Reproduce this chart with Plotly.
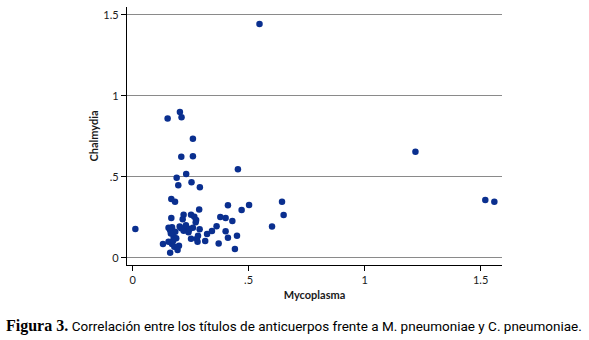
import plotly.graph_objects as go

mycoplasma = [0.012, 0.547, 1.219, 1.520, 1.559, 0.454, 0.644, 0.651, 0.502, 0.470,
              0.151, 0.204, 0.211, 0.260, 0.210, 0.260, 0.231, 0.190, 0.254, 0.197,
              0.290, 0.167, 0.183, 0.411, 0.287, 0.220, 0.252, 0.167, 0.216, 0.266,
              0.274, 0.378, 0.401, 0.430, 0.272, 0.155, 0.170, 0.203, 0.234, 0.260,
              0.289, 0.362, 0.342, 0.321, 0.401, 0.601, 0.162, 0.184, 0.220, 0.241,
              0.282, 0.252, 0.277, 0.280, 0.313, 0.177, 0.188, 0.155, 0.131, 0.170,
              0.200, 0.180, 0.194, 0.162, 0.371, 0.411, 0.450, 0.441, 0.209, 0.160,
              0.230, 0.245, 0.175, 0.165]
chlamydia = [0.177, 1.443, 0.655, 0.357, 0.346, 0.546, 0.346, 0.264, 0.326, 0.295,
             0.859, 0.900, 0.868, 0.735, 0.624, 0.627, 0.517, 0.493, 0.466, 0.447,
             0.435, 0.363, 0.346, 0.324, 0.297, 0.266, 0.266, 0.245, 0.238, 0.253,
             0.233, 0.251, 0.245, 0.227, 0.219, 0.185, 0.188, 0.192, 0.184, 0.185,
             0.175, 0.194, 0.165, 0.146, 0.163, 0.192, 0.169, 0.161, 0.167, 0.157,
             0.136, 0.117, 0.117, 0.099, 0.103, 0.128, 0.120, 0.099, 0.085, 0.085,
             0.074, 0.068, 0.048, 0.031, 0.087, 0.124, 0.136, 0.054, 0.182, 0.180,
             0.200, 0.175, 0.105, 0.150]

tick_vals = [0, 0.5, 1, 1.5]
tick_text = ["0", ".5", "1", "1.5"]

x_title = "Mycoplasma"
y_title = "Chalmydia"
caption_bold = "Figura 3."
caption_rest = "Correlación entre los títulos de anticuerpos frente a M. pneumoniae y C. pneumoniae."

fig = go.Figure()
fig.add_trace(go.Scatter(
    x=mycoplasma, y=chlamydia, mode="markers",
    marker=dict(size=6.5, color="#0a2f8f", line=dict(width=0)),
    showlegend=False,
))

axis_font = dict(family="Lato, Open Sans, sans-serif", size=11, color="#1a1a1a")

fig.update_layout(
    width=589, height=340,
    margin=dict(l=127, r=87, t=7, b=75),
    plot_bgcolor="white", paper_bgcolor="white",
    xaxis=dict(
        range=[-0.024, 1.592], tickvals=tick_vals, ticktext=tick_text,
        showgrid=False, zeroline=False,
        showline=True, linecolor="black", linewidth=1.3,
        ticks="outside", ticklen=5, tickcolor="black", tickwidth=1.2,
        tickfont=axis_font,
        title=dict(text="<b>" + x_title + "</b>", font=axis_font, standoff=5),
    ),
    yaxis=dict(
        range=[-0.045, 1.548], tickvals=tick_vals, ticktext=tick_text,
        showgrid=True, gridcolor="#8a8a8a", gridwidth=1.2, zeroline=False,
        showline=True, linecolor="black", linewidth=1.3,
        ticks="outside", ticklen=5, tickcolor="black", tickwidth=1.2,
        tickfont=axis_font,
        title=dict(text="<b>" + y_title + "</b>", font=axis_font, standoff=2),
    ),
    annotations=[dict(
        xref="paper", yref="paper", x=0.5, y=-0.236, xanchor="center", yanchor="middle",
        xshift=-21,
        showarrow=False,
        text="<span style='font-family:Liberation Serif, serif; font-size:16px'><b>" + caption_bold
             + "</b></span> <span style='font-family:Liberation Sans Narrow, Roboto, sans-serif; font-size:13.5px'>"
             + caption_rest + "</span>",
        font=dict(size=13.5, color="black"),
    )],
)

fig.write_html("out.html", config={"displayModeBar": False},
               post_script="document.body.style.margin='0';")
